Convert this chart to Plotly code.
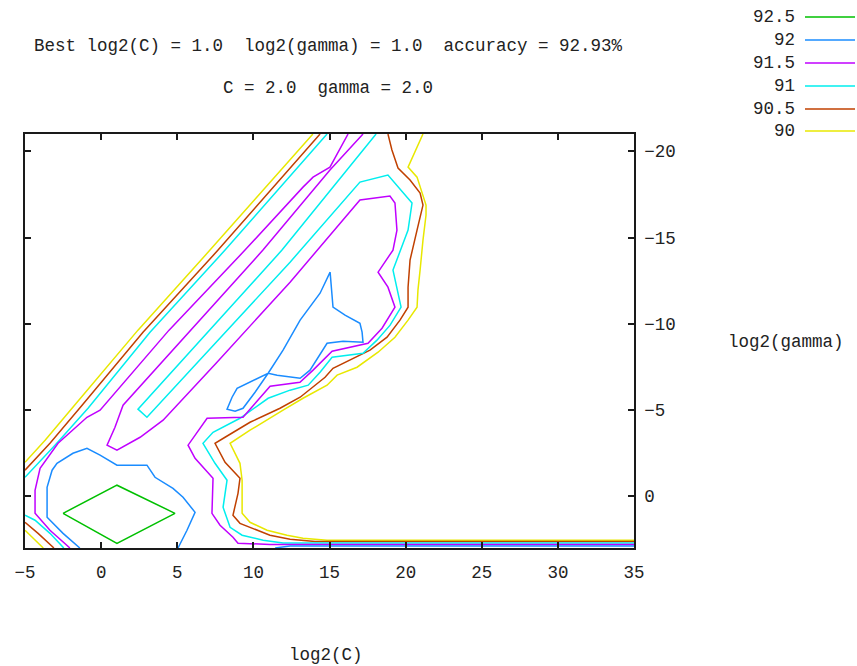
import plotly.graph_objects as go

# ---------------- data ----------------
log2c_ticks = [-5, 0, 5, 10, 15, 20, 25, 30, 35]
log2g_ticks = [-20, -15, -10, -5, 0]
levels = ["92.5", "92", "91.5", "91", "90.5", "90"]
level_colors = ["#00c000", "#1a8cff", "#c000ff", "#00eeee", "#c04000", "#e8e800"]

# 92.5 contour
l925_a_c = [-2.50, 1.04, 4.85, 1.04, -2.50]
l925_a_g = [0.99, -0.64, 0.99, 2.73, 0.99]

# 92 contours
l92_a_c = [-1.40, -2.50, -3.55, -3.55, -3.22, -2.90, -1.85, -0.93, -0.07, 1.04, 3.01, 3.54, 4.72, 5.38, 6.17, 5.64, 5.05]
l92_a_g = [3.00, 2.15, 1.22, -0.52, -1.51, -1.91, -2.49, -2.78, -2.38, -1.80, -1.80, -1.10, -0.46, 0.06, 0.93, 1.97, 3.00]
l92_b_c = [15.04, 14.38, 13.07, 11.95, 10.97, 10.11, 9.32, 8.80, 8.27, 8.60, 8.93, 9.78, 10.97, 11.56, 13.07, 13.72, 14.84, 15.89, 17.20, 17.14, 17.00, 16.02, 15.23, 15.04]
l92_b_g = [-12.99, -11.77, -10.21, -8.47, -7.13, -6.03, -5.10, -4.93, -5.05, -5.74, -6.26, -6.61, -7.13, -7.02, -6.84, -7.31, -8.87, -8.99, -8.93, -9.51, -10.03, -10.50, -10.96, -12.99]
l92_c_c = [11.43, 12.41, 35.00]
l92_c_g = [3.00, 2.88, 2.88]

# 91.5 contours
l915_a_c = [16.22, 15.03, 13.92, 13.26, 9.45, 4.46, -0.07, -0.93, -2.83, -4.01, -4.34, -4.34, -3.36, -2.05]
l915_a_g = [-21.0, -19.08, -18.50, -17.92, -14.27, -9.63, -4.99, -4.58, -3.07, -1.62, -0.35, 0.99, 1.97, 3.00]
l915_b_c = [17.20, 15.03, 10.63, 5.90, 1.44, 0.91, 0.39, 1.04, 2.56, 4.07, 7.61, 12.41, 17.00, 18.97, 19.30, 19.43,
            19.17, 18.19, 18.84, 19.30, 18.45, 17.53, 15.17, 13.92, 13.06, 11.10, 9.32, 6.96, 6.17, 5.71, 6.17, 7.35,
            7.28, 7.81, 8.66, 8.99, 11.09, 35.00]
l915_b_g = [-21.0, -18.91, -14.27, -9.63, -5.28, -4.00, -2.96, -2.67, -3.42, -4.41, -7.77, -12.41, -17.17, -17.40, -17.00, -15.43,
            -14.27, -12.99, -12.12, -10.96, -9.74, -8.87, -8.41, -7.31, -6.61, -6.38, -4.58, -4.52, -3.54, -2.96, -2.20, -1.04,
            0.99, 1.68, 2.38, 2.73, 2.79, 2.79]

# 91 contours
l91_a_c = [-5.00, -3.03, -0.86, 3.21, 8.14, 14.84]
l91_a_g = [-1.10, -2.96, -5.10, -9.51, -14.27, -21.0]
l91_b_c = [18.06, 11.88, 2.42, 3.01, 12.41, 17.00, 18.84, 20.42, 20.16, 19.17, 19.70, 18.98, 18.12, 17.20, 15.17, 14.38,
           13.60, 12.41, 10.97, 9.12, 7.35, 6.69, 7.48, 8.27, 8.01, 8.47, 9.26, 10.64, 11.95, 35.00]
l91_b_g = [-21.0, -14.27, -5.05, -4.58, -13.57, -18.21, -18.62, -17.00, -15.43, -13.11, -10.96, -9.92, -9.05, -8.29, -8.06, -7.19,
           -6.44, -6.15, -5.68, -4.52, -3.71, -3.07, -1.91, -0.93, 0.64, 1.80, 2.26, 2.55, 2.71, 2.71]
l91_c_c = [-5.00, -4.34, -3.36, -2.45]
l91_c_g = [1.10, 1.39, 2.15, 3.00]

# 90.5 contours
l905_a_c = [-5.00, -3.36, -1.25, 2.75, 7.68, 14.38]
l905_a_g = [-1.51, -3.07, -5.28, -9.51, -14.27, -21.0]
l905_b_c = [18.84, 19.10, 19.50, 20.29, 20.95, 21.14, 20.75, 20.29, 20.16, 20.16, 19.63, 18.78, 17.66, 16.35, 15.23, 14.71,
            13.07, 11.75, 9.78, 8.14, 7.48, 8.14, 9.12, 8.99, 8.66, 9.12, 9.91, 11.09, 12.41, 14.05, 35.00]
l905_b_g = [-21.0, -20.07, -19.03, -18.33, -17.58, -16.88, -15.43, -13.69, -12.12, -10.96, -10.21, -9.22, -8.47, -7.89, -7.42, -6.90,
            -5.74, -5.10, -4.29, -3.42, -3.07, -1.97, -1.04, -0.17, 1.10, 1.57, 1.86, 2.26, 2.49, 2.62, 2.62]
l905_c_c = [-5.00, -4.14, -3.10]
l905_c_g = [1.51, 2.15, 3.00]

# 90 contours
l90_a_c = [-5.00, -3.68, -1.58, 2.42, 7.15, 13.91]
l90_a_g = [-1.97, -3.25, -5.45, -9.63, -14.27, -21.0]
l90_b_c = [21.14, 20.16, 20.75, 21.08, 21.34, 21.34, 21.14, 20.95, 20.81, 20.75, 20.16, 19.30, 18.19, 16.81, 15.50, 14.84,
           13.26, 11.95, 9.78, 8.47, 9.12, 9.26, 9.26, 9.78, 10.90, 12.21, 13.26, 14.84, 35.00]
l90_b_g = [-21.0, -19.08, -18.50, -17.58, -16.88, -16.30, -14.85, -13.11, -11.95, -10.96, -10.21, -9.22, -8.35, -7.48, -7.02, -6.44,
           -5.68, -4.99, -3.83, -3.07, -1.91, -0.93, 0.99, 1.51, 1.97, 2.26, 2.44, 2.55, 2.55]
l90_c_c = [-5.00, -3.80]
l90_c_g = [1.97, 3.00]

contour_sets = [
    [(l925_a_c, l925_a_g)],
    [(l92_a_c, l92_a_g), (l92_b_c, l92_b_g), (l92_c_c, l92_c_g)],
    [(l915_a_c, l915_a_g), (l915_b_c, l915_b_g)],
    [(l91_a_c, l91_a_g), (l91_b_c, l91_b_g), (l91_c_c, l91_c_g)],
    [(l905_a_c, l905_a_g), (l905_b_c, l905_b_g), (l905_c_c, l905_c_g)],
    [(l90_a_c, l90_a_g), (l90_b_c, l90_b_g), (l90_c_c, l90_c_g)],
]

title_line1 = "Best log2(C) = 1.0  log2(gamma) = 1.0  accuracy = 92.93%"
title_line2 = "C = 2.0  gamma = 2.0"
xlabel = "log2(C)"
ylabel = "log2(gamma)"

# ---------------- figure ----------------
FONT = "Liberation Mono"
FS = 17.5
W, H = 857, 666
ML, MR, MT, MB = 25, 223, 134, 118
PW, PH = W - ML - MR, H - MT - MB

def px(xp):
    return (xp - ML) / PW

def py(yp):
    return (H - MB - yp) / PH

fig = go.Figure()
# draw in reverse order so that lower levels lie beneath
for lvl, col, segs in reversed(list(zip(levels, level_colors, contour_sets))):
    xs, ys = [], []
    for cs, gs in segs:
        xs += list(cs) + [None]
        ys += list(gs) + [None]
    fig.add_trace(go.Scatter(x=xs, y=ys, mode="lines", name=lvl,
                             line=dict(color=col, width=1.5),
                             showlegend=False, hoverinfo="skip", connectgaps=False))

axis_common = dict(
    showgrid=False, zeroline=False, showline=True, linecolor="#1a1a1a", linewidth=1.5,
    mirror="ticks", ticks="inside", ticklen=6, tickwidth=1.5, tickcolor="#1a1a1a",
    tickfont=dict(family=FONT, size=FS, color="#222"),
)

fig.update_layout(
    width=W, height=H,
    margin=dict(l=ML, r=MR, t=MT, b=MB),
    paper_bgcolor="white", plot_bgcolor="white",
    xaxis=dict(range=[-5, 35], tickvals=log2c_ticks, ticklabelstandoff=7, **axis_common),
    yaxis=dict(range=[3, -21], tickvals=log2g_ticks, side="right", ticklabelstandoff=5, **axis_common),
)

anns = [
    dict(text=title_line1, x=px(328), y=py(46)),
    dict(text=title_line2, x=px(328), y=py(88)),
    dict(text=xlabel, x=px(326), y=py(655)),
    dict(text=ylabel, x=px(786), y=py(342)),
]
for a in anns:
    fig.add_annotation(xref="paper", yref="paper", showarrow=False, xanchor="center", yanchor="middle",
                       font=dict(family=FONT, size=FS, color="#222"), **a)

# legend (label left of sample line)
leg_y = [17, 40, 63, 86, 109, 131]
for lvl, col, yy in zip(levels, level_colors, leg_y):
    fig.add_annotation(xref="paper", yref="paper", showarrow=False, xanchor="right", yanchor="middle",
                       x=px(797), y=py(yy), text=lvl, font=dict(family=FONT, size=FS, color="#222"))
    fig.add_shape(type="line", xref="paper", yref="paper", x0=px(805), x1=px(855), y0=py(yy), y1=py(yy),
                  line=dict(color=col, width=1.5))

fig.write_html("out.html")
